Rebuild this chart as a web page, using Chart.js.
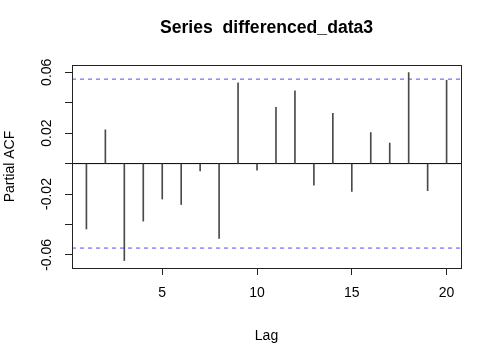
<!DOCTYPE html>
<html>
<head>
<meta charset="utf-8">
<script src="https://cdn.jsdelivr.net/npm/chart.js@4.4.1/dist/chart.umd.min.js"></script>
<style>
  html, body { margin: 0; padding: 0; background: #fff; }
  #c { display: block; }
</style>
</head>
<body>
<canvas id="c" width="498" height="349"></canvas>
<script>
// ---- data ----
const lags = [1, 2, 3, 4, 5, 6, 7, 8, 9, 10, 11, 12, 13, 14, 15, 16, 17, 18, 19, 20];
const pacfValues = [-0.0430, 0.0222, -0.0637, -0.0378, -0.0233, -0.0269, -0.0048, -0.0491, 0.0530, -0.0044,
                    0.0369, 0.0478, -0.0141, 0.0330, -0.0183, 0.0204, 0.0135, 0.0598, -0.0178, 0.0548];
const ciLimit = 0.0555;
const xTickValues = [5, 10, 15, 20];
const xTickLabels = ['5', '10', '15', '20'];
const yTickValues = [-0.06, -0.04, -0.02, 0, 0.02, 0.04, 0.06];
const yTickLabels = ['-0.06', '', '-0.02', '', '0.02', '', '0.06'];
const titleText = 'Series  differenced_data3';
const xTitle = 'Lag';
const yTitle = 'Partial ACF';

const xMin = 0.24, xMax = 20.76;
const yMin = -0.0686, yMax = 0.0647;

const FONT = '"Liberation Sans", Arial, Helvetica, sans-serif';

const boxPlugin = {
  id: 'rbox',
  afterDraw(chart) {
    const {ctx, chartArea: a} = chart;
    ctx.save();
    ctx.strokeStyle = '#222';
    ctx.lineWidth = 1;
    ctx.strokeRect(Math.round(a.left) + 0.5, Math.round(a.top) + 0.5,
                   Math.round(a.right - a.left), Math.round(a.bottom - a.top));
    // y tick labels, rotated like R's default
    const ys = chart.scales.y;
    ctx.fillStyle = '#000';
    ctx.font = '14px ' + FONT;
    ctx.textAlign = 'center';
    ctx.textBaseline = 'alphabetic';
    yTickValues.forEach((v, i) => {
      const lab = yTickLabels[i];
      if (!lab) return;
      const py = ys.getPixelForValue(v);
      ctx.save();
      ctx.translate(51, py);
      ctx.rotate(-Math.PI / 2);
      ctx.fillText(lab, 0, 0);
      ctx.restore();
    });
    ctx.restore();
  }
};

new Chart(document.getElementById('c'), {
  type: 'bar',
  data: {
    datasets: [
      {
        type: 'line',
        data: [{x: xMin, y: 0}, {x: xMax, y: 0}],
        borderColor: '#000',
        borderWidth: 1,
        pointRadius: 0,
        order: 3
      },
      {
        type: 'line',
        data: [{x: xMin, y: ciLimit}, {x: xMax, y: ciLimit}],
        borderColor: '#4d4dff',
        borderWidth: 1,
        borderDash: [4, 4],
        pointRadius: 0,
        order: 2
      },
      {
        type: 'line',
        data: [{x: xMin, y: -ciLimit}, {x: xMax, y: -ciLimit}],
        borderColor: '#4d4dff',
        borderWidth: 1,
        borderDash: [4, 4],
        pointRadius: 0,
        order: 2
      },
      {
        type: 'bar',
        data: lags.map((l, i) => ({x: l, y: pacfValues[i]})),
        backgroundColor: '#4a4a4a',
        borderWidth: 0,
        barThickness: 1,
        grouped: false,
        order: 1
      }
    ]
  },
  options: {
    responsive: false,
    animation: false,
    devicePixelRatio: 1,
    layout: { padding: { left: 0, right: 37, top: 0, bottom: 0 } },
    plugins: {
      legend: { display: false },
      tooltip: { enabled: false },
      title: {
        display: true,
        text: titleText,
        fullSize: false,
        color: '#000',
        font: { family: FONT, size: 17.6, weight: 'bold', lineHeight: 1.2 },
        padding: { top: 18, bottom: 26 }
      }
    },
    scales: {
      x: {
        type: 'linear',
        min: xMin,
        max: xMax,
        offset: false,
        afterBuildTicks(scale) { scale.ticks = xTickValues.map(v => ({value: v})); },
        afterFit(scale) { scale.height = 81; scale.paddingLeft = 0; scale.paddingRight = 0; },
        ticks: {
          color: '#000',
          font: { family: FONT, size: 14 },
          padding: 10,
          maxRotation: 0,
          autoSkip: false,
          callback(v) { const i = xTickValues.indexOf(v); return i >= 0 ? xTickLabels[i] : ''; }
        },
        grid: { offset: false, drawOnChartArea: false, drawTicks: true, tickLength: 7, color: '#222', lineWidth: 1 },
        border: { display: true, color: '#222', width: 1 },
        title: {
          display: true,
          text: xTitle,
          color: '#000',
          font: { family: FONT, size: 14, lineHeight: 1.2 },
          padding: { top: 0, bottom: 4 }
        }
      },
      y: {
        type: 'linear',
        min: yMin,
        max: yMax,
        afterBuildTicks(scale) { scale.ticks = yTickValues.map(v => ({value: v})); },
        afterFit(scale) { scale.width = 72; scale.paddingTop = 0; scale.paddingBottom = 0; },
        ticks: { display: false },
        grid: { offset: false, drawOnChartArea: false, drawTicks: true, tickLength: 7, color: '#222', lineWidth: 1 },
        border: { display: true, color: '#222', width: 1 },
        title: {
          display: true,
          text: yTitle,
          color: '#000',
          font: { family: FONT, size: 14, lineHeight: 1.2 },
          padding: { top: 2, bottom: 0 }
        }
      }
    }
  },
  plugins: [boxPlugin]
});
</script>
</body>
</html>
